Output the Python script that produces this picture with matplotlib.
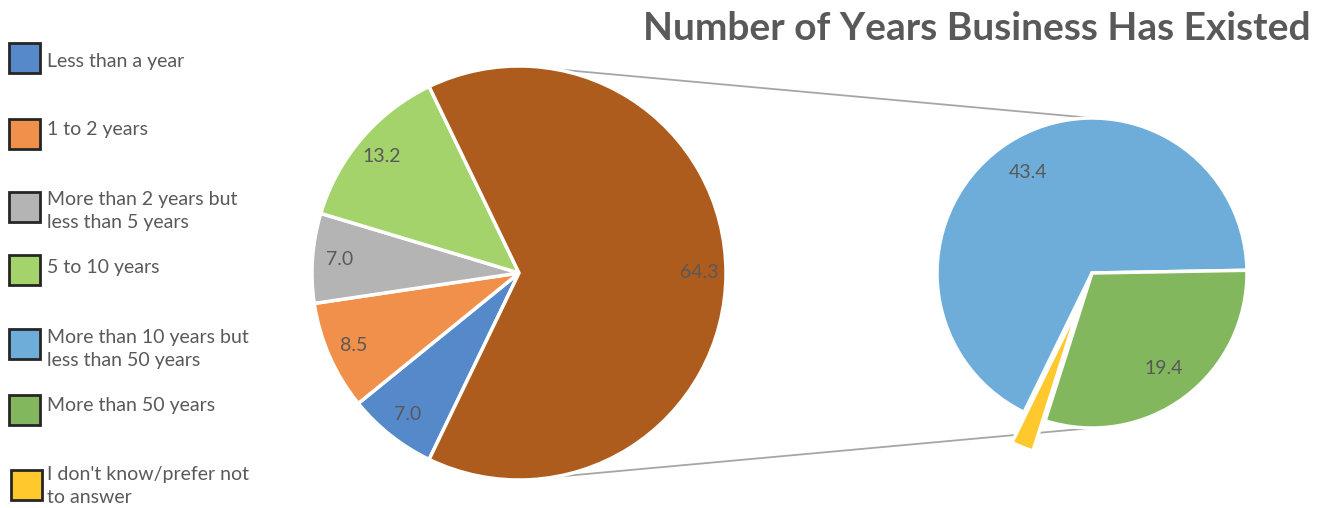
import numpy as np
import matplotlib
matplotlib.use("Agg")
import matplotlib.pyplot as plt
from matplotlib.patches import Rectangle

plt.rcParams['font.family'] = ['Lato', 'DejaVu Sans']

# main pie: four single categories plus the bundled "other" share
main_labels = ['Less than a year', '1 to 2 years',
               'More than 2 years but\nless than 5 years', '5 to 10 years', 'Other']
main_values = [7.0, 8.5, 7.0, 13.2, 64.3]
main_colors = ['#5689CA', '#F0904A', '#B4B4B4', '#A3D36A', '#AE5B1E']

# second pie breaks the "other" share apart
sub_labels = ['More than 10 years but\nless than 50 years', "I don't know/prefer not\nto answer",
              'More than 50 years']
sub_values = [43.4, 1.5, 19.4]
sub_colors = ['#6EADD9', '#FFC82C', '#82B75E']
sub_explode = [0, 0.21, 0]   # fraction of the small pie's radius

legend_labels = ['Less than a year', '1 to 2 years',
                 'More than 2 years but\nless than 5 years', '5 to 10 years',
                 'More than 10 years but\nless than 50 years', 'More than 50 years',
                 "I don't know/prefer not\nto answer"]
legend_colors = ['#5689CA', '#F0904A', '#B4B4B4', '#A3D36A', '#6EADD9', '#82B75E', '#FFC82C']
box_y = [450, 374, 301, 238, 164, 98, 23]
box_x = [9, 9, 9, 9, 9, 9, 11]
label_y = [446, 378, 297, 240, 159, 102, 22]

W, H = 1336, 508
fig = plt.figure(figsize=(W / 100, H / 100), dpi=100)
ax = fig.add_axes([0, 0, 1, 1])

txt = '#595959'
main_c, main_r = (519, 235), 207
sub_c, sub_r = (1092, 235), 155

other_angle = 3.6 * main_values[-1]
ax.pie(main_values, colors=main_colors, center=main_c, radius=main_r,
       startangle=360 - other_angle / 2, counterclock=False,
       autopct=lambda p: f'{p * sum(main_values) / 100:.1f}', pctdistance=0.87,
       wedgeprops=dict(edgecolor='white', linewidth=2.5),
       textprops=dict(color=txt, fontsize=14))

sub_total = sum(sub_values)
ax.pie(sub_values, colors=sub_colors, center=sub_c, radius=sub_r,
       startangle=1, counterclock=True, explode=[e * sub_r for e in sub_explode],
       autopct=lambda p: f'{p * sub_total / 100:.1f}' if p > 5 else '',
       pctdistance=0.77,
       wedgeprops=dict(edgecolor='white', linewidth=2.5),
       textprops=dict(color=txt, fontsize=14))

# connector lines between the two pies
for a_main, a_sub in [(80, 90), (-80, -90)]:
    x0 = main_c[0] + main_r * np.cos(np.radians(a_main))
    y0 = main_c[1] + main_r * np.sin(np.radians(a_main))
    x1 = sub_c[0] + sub_r * np.cos(np.radians(a_sub))
    y1 = sub_c[1] + sub_r * np.sin(np.radians(a_sub))
    ax.plot([x0, x1], [y0, y1], color='#A6A6A6', lw=1.3, zorder=0)

# legend drawn by hand
for lab, col, bx, by, ty in zip(legend_labels, legend_colors, box_x, box_y, label_y):
    ax.add_patch(Rectangle((bx, by - 15), 31, 30, facecolor=col,
                           edgecolor='#262626', linewidth=2))
    ax.text(47, ty, lab, ha='left', va='center',
            color=txt, fontsize=14, linespacing=1.45)

ax.text(977, 480, 'Number of Years Business Has Existed', ha='center', va='center',
        color=txt, fontsize=28, fontweight='bold')

ax.set_xlim(0, W)
ax.set_ylim(0, H)
ax.set_aspect('equal')
ax.axis('off')
fig.savefig('out.png', dpi=100)
